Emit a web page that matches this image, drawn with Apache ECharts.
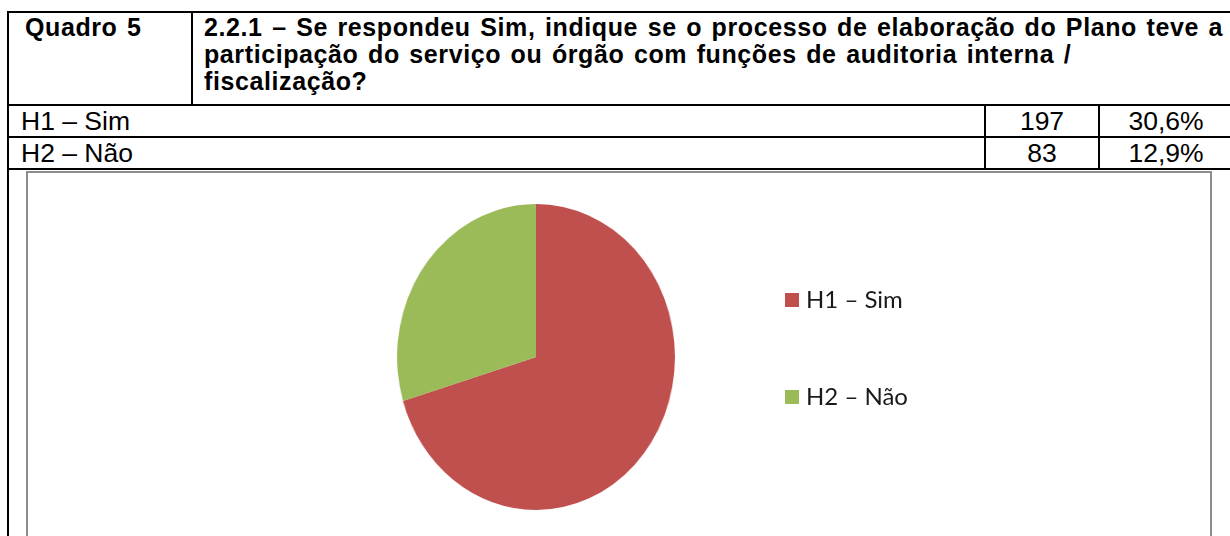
<!DOCTYPE html>
<html>
<head>
<meta charset="utf-8">
<script src="https://cdn.jsdelivr.net/npm/echarts@6/dist/echarts.min.js"></script>
<style>
  html, body { margin: 0; padding: 0; background: #fff; width: 1230px; height: 536px; overflow: hidden; }
  .ln { position: absolute; background: #000; }
  .t { position: absolute; font-family: Arial, "Liberation Sans", sans-serif; color: #000; white-space: pre; line-height: 27px; }
  .b { font-weight: bold; font-size: 25px; letter-spacing: 0.6px; word-spacing: 2px; }
  .r { font-size: 26.5px; }
  .c { text-align: center; }
  #frame { position: absolute; left: 26px; top: 171px; width: 1186px; height: 420px; border: 2px solid #8c8c8c; box-sizing: border-box; }
  #pie { position: absolute; left: 376px; top: 197px; width: 320px; height: 320px; transform: scaleX(0.908); transform-origin: 50% 50%; }
  #leg { position: absolute; left: 0; top: 0; width: 1230px; height: 536px; }
</style>
</head>
<body>
<div id="root"></div>
<div id="frame"></div>
<div id="pie"></div>
<div id="leg"></div>
<script>
// ---- data ----
const quadroLabel = 'Quadro 5';
const questionLines = [
  '2.2.1 – Se respondeu Sim, indique se o processo de elaboração do Plano teve a',
  'participação do serviço ou órgão com funções de auditoria interna /',
  'fiscalização?'
];
const categories = ['H1 – Sim', 'H2 – Não'];
const counts = [197, 83];
const percents = ['30,6%', '12,9%'];
const colors = ['#C0504D', '#9BBB59'];

// ---- table (HTML) ----
const root = document.getElementById('root');
function line(l, t, w, h) {
  const d = document.createElement('div');
  d.className = 'ln';
  d.style.left = l + 'px'; d.style.top = t + 'px';
  d.style.width = w + 'px'; d.style.height = h + 'px';
  root.appendChild(d);
}
function text(str, cls, l, t, w) {
  const d = document.createElement('div');
  d.className = 't ' + cls;
  d.textContent = str;
  d.style.left = l + 'px'; d.style.top = t + 'px';
  if (w) d.style.width = w + 'px';
  root.appendChild(d);
}
// horizontal rules
const rowTops = [11, 104, 136, 168];
rowTops.forEach(y => line(7, y, 1240, 2));
// verticals
line(7, 11, 2, 540);
line(191, 11, 2, 95);
line(984, 104, 2, 66);
line(1098, 104, 2, 66);

text(quadroLabel, 'b', 25, 14);
text(questionLines.join('\n'), 'b', 204, 14);
const rowTextTops = [108, 140];
categories.forEach((c, i) => {
  text(c, 'r', 21, rowTextTops[i]);
  text(String(counts[i]), 'r c', 986, rowTextTops[i], 112);
  text(percents[i], 'r c', 1100, rowTextTops[i], 132);
});

// ---- pie (ECharts) ----
const pieData = categories.map((c, i) => ({ name: c, value: counts[i] }));
const pie = echarts.init(document.getElementById('pie'), null, { renderer: 'canvas' });
pie.setOption({
  animation: false,
  color: colors,
  series: [{
    type: 'pie',
    center: ['50%', '50%'],
    radius: [0, 153],
    startAngle: 90,
    clockwise: true,
    label: { show: false },
    labelLine: { show: false },
    itemStyle: { borderWidth: 0 },
    data: pieData
  }]
});

// ---- legend (ECharts) ----
const leg = echarts.init(document.getElementById('leg'), null, { renderer: 'canvas' });
leg.setOption({
  animation: false,
  color: colors,
  legend: {
    orient: 'vertical',
    left: 785,
    top: 287.5,
    icon: 'rect',
    itemWidth: 14,
    itemHeight: 14,
    itemGap: 72,
    padding: 0,
    textStyle: { fontFamily: 'Lato, "Open Sans", sans-serif', fontSize: 24, lineHeight: 25, color: '#1a1a1a', padding: [0, 0, 0, 2] },
    data: categories
  },
  series: [{
    type: 'pie',
    radius: [0, 0],
    center: [-100, -100],
    silent: true,
    label: { show: false },
    labelLine: { show: false },
    data: pieData
  }]
});
</script>
</body>
</html>
